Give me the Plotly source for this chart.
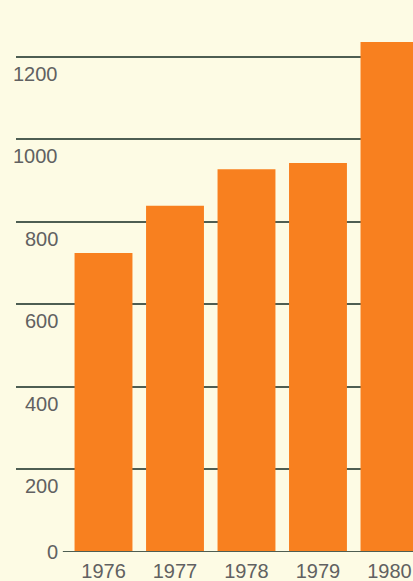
import plotly.graph_objects as go

years = ["1976", "1977", "1978", "1979", "1980"]
values = [725, 839, 928, 943, 1236]
grid_ticks = [200, 400, 600, 800, 1000, 1200]
label_ticks = [0, 200, 400, 600, 800, 1000, 1200]

bg = "#fdfbe4"
bar_color = "#f8801f"
line_color = "#4e5e52"
text_color = "#616161"
font_family = "Liberation Sans, Arial, sans-serif"

fig = go.Figure()
fig.add_trace(go.Bar(
    x=list(range(len(years))),
    y=values,
    marker=dict(color=bar_color, line=dict(width=0)),
    width=0.81,
    hoverinfo="skip",
))

# value labels sit just below each gridline, right-aligned
for v in label_ticks:
    fig.add_annotation(
        x=0.111, xref="paper", y=v, yref="y",
        text=str(v), showarrow=False,
        xanchor="right", yanchor="middle" if v == 0 else "top",
        yshift=0 if v == 0 else -4,
        font=dict(family=font_family, size=20, color=text_color),
    )

# baseline starts to the right of the "0" label
fig.add_shape(
    type="line", xref="paper", yref="y",
    x0=0.118, x1=1, y0=0, y1=0,
    line=dict(color=line_color, width=2),
    layer="above",
)

fig.update_layout(
    width=413, height=581,
    margin=dict(l=16, r=0, t=0, b=29),
    paper_bgcolor=bg, plot_bgcolor=bg,
    showlegend=False,
    xaxis=dict(
        range=[-1.224, 4.329],
        tickmode="array",
        tickvals=list(range(len(years))),
        ticktext=years,
        showgrid=False, zeroline=False, showline=False,
        ticks="", ticklabelstandoff=5,
        tickfont=dict(family=font_family, size=20, color=text_color),
    ),
    yaxis=dict(
        range=[0, 1338],
        tickmode="array",
        tickvals=grid_ticks,
        showticklabels=False,
        showgrid=True, gridcolor=line_color, gridwidth=2,
        zeroline=False, showline=False, ticks="",
    ),
)

fig.write_html("out.html")
